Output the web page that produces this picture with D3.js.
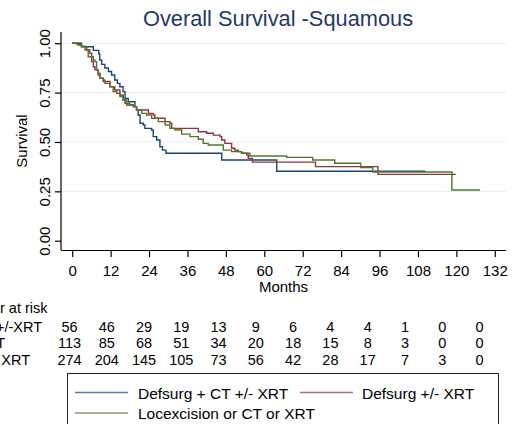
<!DOCTYPE html>
<html>
<head>
<meta charset="utf-8">
<script src="https://cdn.jsdelivr.net/npm/d3@7"></script>
<style>
  html, body { margin: 0; padding: 0; background: #ffffff; }
  svg { display: block; font-family: "Liberation Sans", Arial, Helvetica, sans-serif; }
</style>
</head>
<body>
<svg id="chart" width="522" height="424"></svg>
<script>
// ---------------- data ----------------
const title = "Overall Survival -Squamous";
const yTicks = [0, 0.25, 0.5, 0.75, 1];
const xTicks = [0, 12, 24, 36, 48, 60, 72, 84, 96, 108, 120, 132];
const groupNames = ["Defsurg + CT +/- XRT", "Defsurg +/- XRT", "Locexcision or CT or XRT"];
const riskLabels = ["Defsurg + CT +/-XRT", "Defsurg +/- XRT", "Locexcision or CT or XRT"];

const blueT = [0, 2.9, 6.6, 8.3, 8.6, 9.2, 10.2, 11.3, 12.3, 13.3, 14.1, 14.9, 15.9, 16.5, 17.5, 19.6, 20.1, 20.6, 21.2, 22.2, 22.7, 24.8, 25.3, 26.4, 27.4, 28.2, 29.3, 46.7, 63.9, 110.3];
const blueS = [1, 0.982, 0.964, 0.946, 0.915, 0.893, 0.875, 0.857, 0.839, 0.814, 0.797, 0.780, 0.755, 0.721, 0.704, 0.679, 0.662, 0.637, 0.595, 0.586, 0.569, 0.561, 0.527, 0.510, 0.476, 0.459, 0.443, 0.409, 0.352, 0.352];

const redT = [0, 1.9, 2.9, 4.5, 5.5, 6.1, 6.6, 7.1, 8.1, 8.7, 9.7, 11.8, 13.3, 14.9, 15.9, 16.5, 17.0, 19.1, 20.1, 23.8, 25.3, 25.8, 29.0, 30.5, 31.1, 39.4, 42.0, 44.1, 46.2, 46.7, 47.7, 49.8, 50.8, 51.9, 52.9, 54.5, 55.0, 56.3, 76.0, 95.5, 119.8];
const redS = [1, 0.991, 0.983, 0.966, 0.949, 0.907, 0.881, 0.865, 0.839, 0.823, 0.806, 0.780, 0.763, 0.738, 0.713, 0.696, 0.687, 0.679, 0.662, 0.645, 0.637, 0.620, 0.603, 0.595, 0.569, 0.552, 0.544, 0.535, 0.527, 0.510, 0.493, 0.468, 0.459, 0.451, 0.443, 0.434, 0.417, 0.398, 0.375, 0.336, 0.336];

const greenT = [0, 1.5, 2.9, 4.0, 5.0, 6.6, 7.1, 7.6, 8.1, 8.7, 9.7, 10.2, 11.8, 12.8, 13.9, 14.9, 15.9, 17.0, 18.0, 19.1, 20.1, 21.7, 23.2, 24.8, 26.9, 29.0, 30.5, 32.1, 34.2, 36.8, 39.4, 40.9, 42.5, 47.2, 49.8, 52.9, 55.5, 67.0, 75.1, 82.0, 90.1, 93.9, 118.6, 127.4];
const greenS = [1, 0.993, 0.985, 0.966, 0.932, 0.915, 0.907, 0.865, 0.848, 0.823, 0.814, 0.797, 0.780, 0.755, 0.747, 0.730, 0.713, 0.696, 0.687, 0.679, 0.662, 0.645, 0.637, 0.620, 0.603, 0.586, 0.569, 0.561, 0.540, 0.527, 0.514, 0.493, 0.485, 0.459, 0.451, 0.443, 0.429, 0.422, 0.409, 0.392, 0.371, 0.348, 0.257, 0.257];

const riskBlue  = [56, 46, 29, 19, 13, 9, 6, 4, 4, 1, 0, 0];
const riskRed   = [113, 85, 68, 51, 34, 20, 18, 15, 8, 3, 0, 0];
const riskGreen = [274, 204, 145, 105, 73, 56, 42, 28, 17, 7, 3, 0];

const colors = ["#1a476f", "#90353b", "#55752f"];

// ---------------- drawing ----------------
const svg = d3.select("#chart");
const FONT = 15;

const plotL = 61, plotR = 506, plotT = 32, plotB = 250;
const x = d3.scaleLinear().domain([-3.5, 135.5]).range([plotL, plotR]);
const y = d3.scaleLinear().domain([-0.047, 1.057]).range([plotB, plotT]);
const xr = d3.scaleLinear().domain([0, 132]).range([69.5, 479.5]);

// title
svg.append("text")
  .attr("x", 278).attr("y", 25.5)
  .attr("text-anchor", "middle")
  .attr("font-size", 21.8)
  .attr("fill", "#1f3a68")
  .text(title);

// grid
svg.append("g").selectAll("line")
  .data(yTicks.filter(d => d > 0))
  .join("line")
  .attr("x1", plotL).attr("x2", plotR)
  .attr("y1", d => y(d)).attr("y2", d => y(d))
  .attr("stroke", "#e6eff1").attr("stroke-width", 1.2);

// y axis
const yAxis = svg.append("g")
  .attr("transform", `translate(${plotL},0)`)
  .call(d3.axisLeft(y).tickValues(yTicks).tickFormat(d3.format(".2f")).tickSize(6).tickSizeOuter(0));
yAxis.select(".domain").remove();
yAxis.append("line").attr("x1", 0).attr("x2", 0).attr("y1", plotT).attr("y2", plotB)
  .attr("stroke", "#000").attr("stroke-width", 1.2);
yAxis.selectAll(".tick line").attr("stroke", "#000").attr("stroke-width", 1.2);
yAxis.selectAll(".tick text")
  .attr("font-size", FONT).attr("font-family", null).attr("fill", "#000")
  .attr("x", null).attr("dy", null)
  .attr("text-anchor", "middle")
  .attr("transform", "translate(-11,0) rotate(-90)");

// y title
svg.append("text")
  .attr("transform", `translate(27,${(plotT + plotB) / 2}) rotate(-90)`)
  .attr("text-anchor", "middle")
  .attr("font-size", FONT)
  .text("Survival");

// x axis
const xAxis = svg.append("g")
  .attr("transform", `translate(0,${plotB})`)
  .call(d3.axisBottom(x).tickValues(xTicks).tickSize(7).tickSizeOuter(0));
xAxis.select(".domain").attr("stroke", "#000").attr("stroke-width", 1.2).attr("d", `M${plotL},0.5H${plotR}`);
xAxis.selectAll(".tick line").attr("stroke", "#000").attr("stroke-width", 1.2);
xAxis.selectAll(".tick text")
  .attr("font-size", FONT).attr("font-family", null).attr("fill", "#000")
  .attr("dy", null).attr("y", 26);

svg.append("text")
  .attr("x", (plotL + plotR) / 2).attr("y", 291.5)
  .attr("text-anchor", "middle")
  .attr("font-size", FONT)
  .text("Months");

// KM step curves
const series = [
  {t: blueT, s: blueS, c: colors[0]},
  {t: redT, s: redS, c: colors[1]},
  {t: greenT, s: greenS, c: colors[2]}
];
const line = d3.line().x(d => x(d[0])).y(d => y(d[1])).curve(d3.curveStepAfter);
series.forEach(sr => {
  svg.append("path")
    .datum(sr.t.map((t, i) => [t, sr.s[i]]))
    .attr("fill", "none")
    .attr("stroke", sr.c)
    .attr("stroke-width", 1.4)
    .attr("d", line);
});

// number at risk table
const RF = 14.5;
svg.append("text").attr("x", 47.5).attr("y", 313).attr("text-anchor", "end")
  .attr("font-size", RF).text("Number at risk");
const risks = [riskBlue, riskRed, riskGreen];
const rowY = [331.5, 348, 364.5];
const labelEnd = [42, 5, 30];
risks.forEach((arr, r) => {
  svg.append("text").attr("x", labelEnd[r]).attr("y", rowY[r]).attr("text-anchor", "end")
    .attr("font-size", RF).text(riskLabels[r]);
  svg.append("g").selectAll("text")
    .data(arr)
    .join("text")
    .attr("x", (d, i) => xr(xTicks[i]))
    .attr("y", rowY[r])
    .attr("text-anchor", "middle")
    .attr("font-size", RF)
    .text(d => d);
});

// legend
const LF = 15.5;
const lg = svg.append("g");
lg.append("rect").attr("x", 67.5).attr("y", 373.5).attr("width", 431).attr("height", 70)
  .attr("fill", "#fff").attr("stroke", "#222").attr("stroke-width", 1);
const legendPos = [
  {lx: 75, ly: 392.5, tx: 138, ty: 398.5},
  {lx: 300, ly: 392.5, tx: 362, ty: 398.5},
  {lx: 75, ly: 413, tx: 138, ty: 419}
];
legendPos.forEach((p, i) => {
  lg.append("line").attr("x1", p.lx).attr("x2", p.lx + 53).attr("y1", p.ly).attr("y2", p.ly)
    .attr("stroke", colors[i]).attr("stroke-width", 1.3).attr("opacity", 0.7);
  lg.append("text").attr("x", p.tx).attr("y", p.ty).attr("font-size", LF).text(groupNames[i]);
});
</script>
</body>
</html>
